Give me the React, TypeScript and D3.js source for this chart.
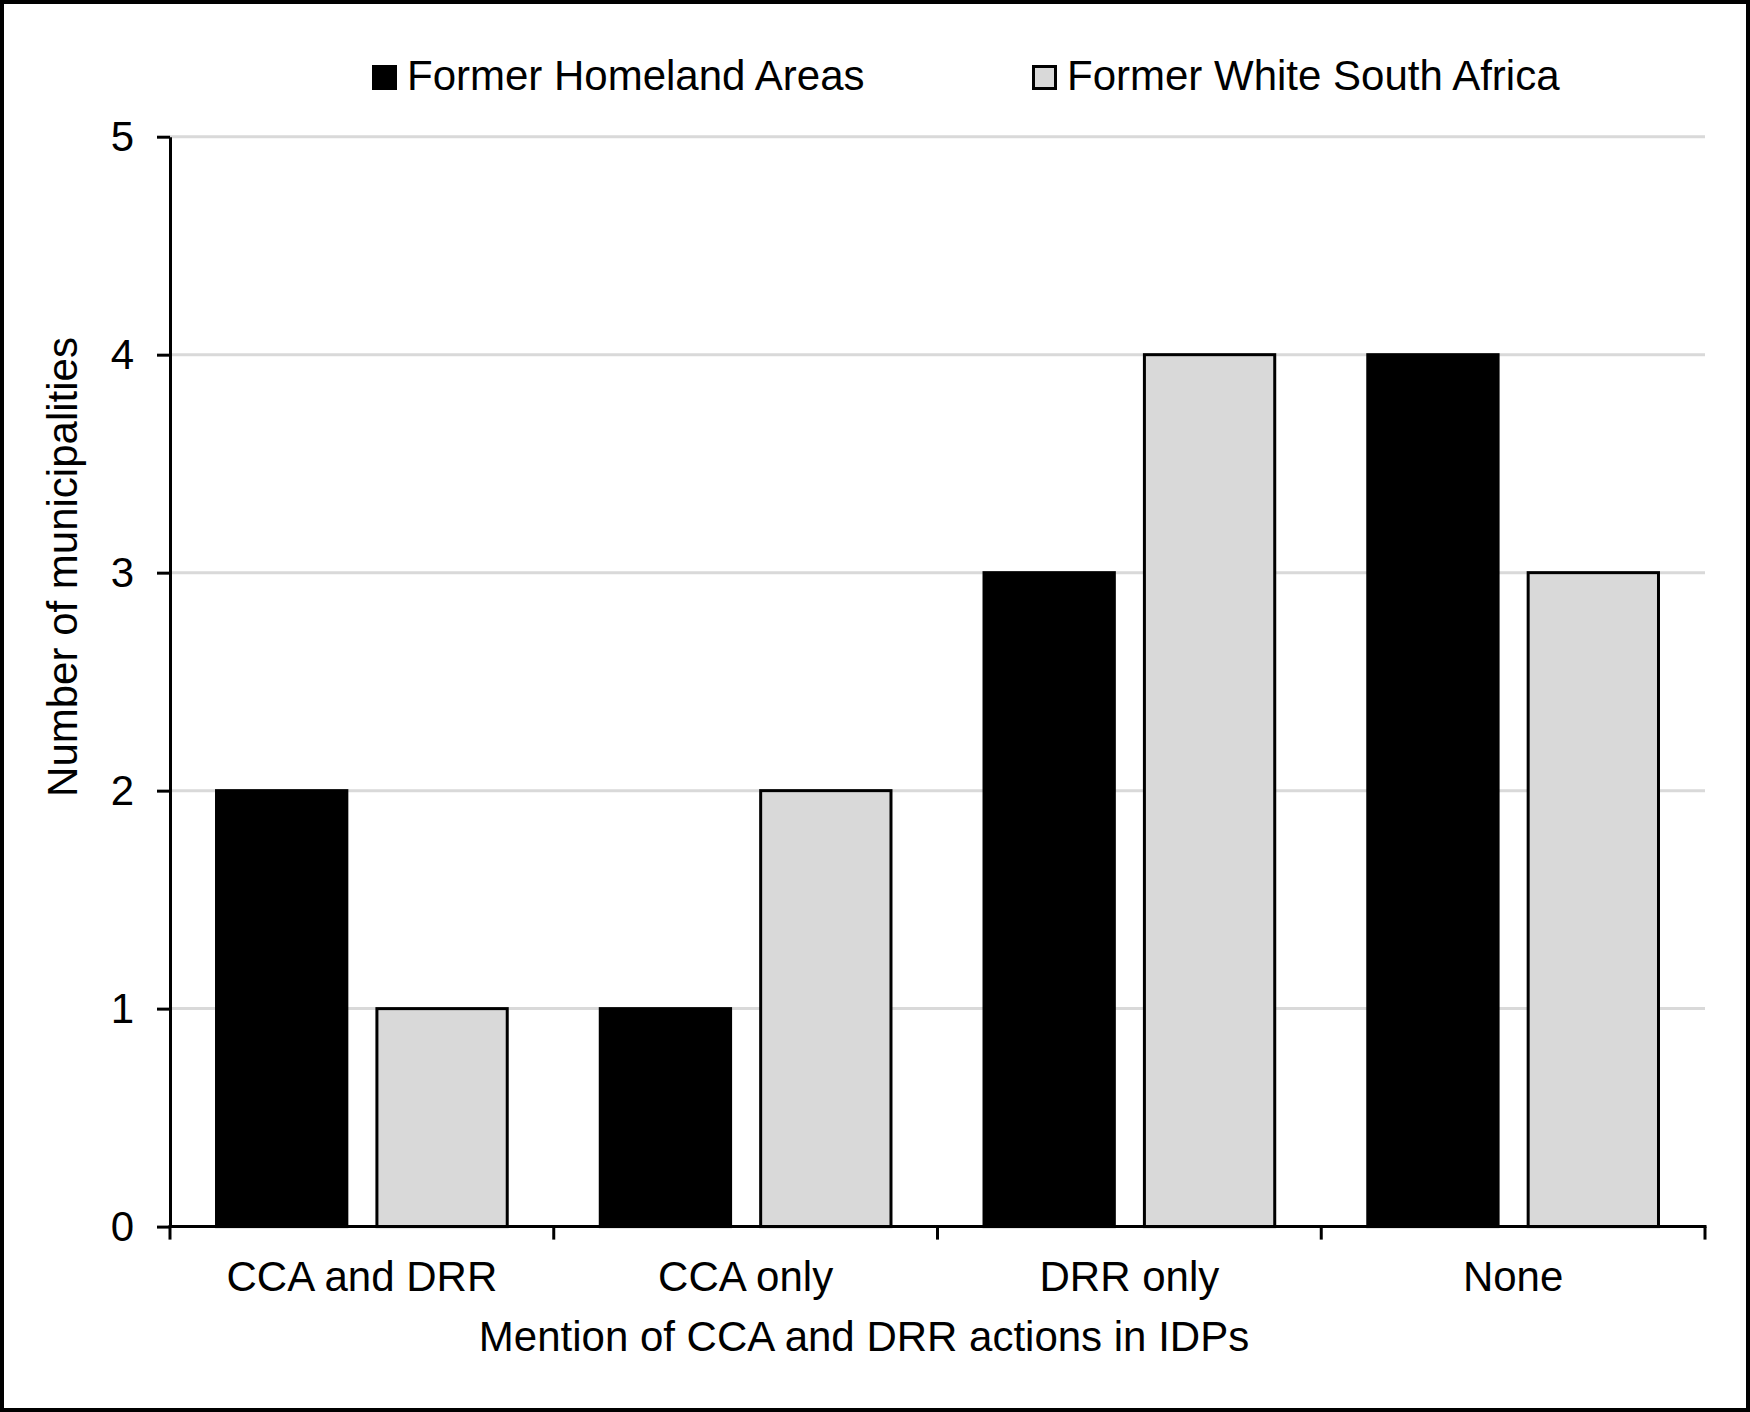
import { useEffect, useRef } from "react";
import * as d3 from "d3";

const categories = ["CCA and DRR", "CCA only", "DRR only", "None"];
const seriesNames = ["Former Homeland Areas", "Former White South Africa"];
const homelandValues = [2, 1, 3, 4];
const whiteSAValues = [1, 2, 4, 3];
const yTicks = [0, 1, 2, 3, 4, 5];

const W = 1750;
const H = 1412;
const FONT = "'Liberation Sans', Arial, sans-serif";

export default function App() {
	const ref = useRef<SVGSVGElement | null>(null);

	useEffect(() => {
		const svg = d3.select(ref.current);
		svg.selectAll("*").remove();

		const plot = { left: 170, right: 1705, top: 136.7, bottom: 1226.6 };

		// white background + outer frame
		svg.append("rect")
			.attr("x", 2).attr("y", 2)
			.attr("width", W - 4).attr("height", H - 4)
			.attr("fill", "#fff")
			.attr("stroke", "#000")
			.attr("stroke-width", 4);

		const x0 = d3.scaleBand<string>()
			.domain(categories)
			.range([plot.left, plot.right]);

		const x1 = d3.scaleBand<string>()
			.domain(seriesNames)
			.range([0, x0.bandwidth()])
			.paddingInner(0.1875)
			.paddingOuter(0.29);

		const y = d3.scaleLinear()
			.domain([0, 5])
			.range([plot.bottom, plot.top]);

		// gridlines
		svg.append("g")
			.selectAll("line")
			.data(yTicks.filter(t => t > 0))
			.enter()
			.append("line")
			.attr("x1", plot.left)
			.attr("x2", plot.right)
			.attr("y1", d => y(d))
			.attr("y2", d => y(d))
			.attr("stroke", "#d9d9d9")
			.attr("stroke-width", 3);

		// bars
		const rows = categories.map((c, i) => ({
			category: c,
			values: [homelandValues[i], whiteSAValues[i]]
		}));

		const fills = ["#000", "#d9d9d9"];

		const groups = svg.append("g")
			.selectAll("g")
			.data(rows)
			.enter()
			.append("g")
			.attr("transform", d => `translate(${x0(d.category)},0)`);

		groups.selectAll("rect")
			.data(d => d.values.map((v, j) => ({ name: seriesNames[j], value: v, j })))
			.enter()
			.append("rect")
			.attr("x", d => x1(d.name)!)
			.attr("y", d => y(d.value))
			.attr("width", x1.bandwidth())
			.attr("height", d => y(0) - y(d.value))
			.attr("fill", d => fills[d.j])
			.attr("stroke", "#000")
			.attr("stroke-width", 3);

		// y axis
		const yAxis = svg.append("g")
			.attr("transform", `translate(${plot.left},0)`)
			.call(
				d3.axisLeft(y)
					.tickValues(yTicks)
					.tickFormat(d3.format("d"))
					.tickSize(13)
					.tickSizeOuter(0)
					.tickPadding(23)
			);

		yAxis.select(".domain").attr("stroke", "#000").attr("stroke-width", 3);
		yAxis.selectAll(".tick line").attr("stroke", "#000").attr("stroke-width", 3);
		yAxis.selectAll(".tick text")
			.attr("font-family", FONT)
			.attr("font-size", 42)
			.attr("fill", "#000");

		// x axis line and boundary ticks
		const xAxis = svg.append("g");
		xAxis.append("line")
			.attr("x1", plot.left - 1.5)
			.attr("x2", plot.right + 1.5)
			.attr("y1", y(0))
			.attr("y2", y(0))
			.attr("stroke", "#000")
			.attr("stroke-width", 3);

		const bounds = categories.map(c => x0(c)!).concat([plot.right]);
		xAxis.selectAll(".xtick")
			.data(bounds)
			.enter()
			.append("line")
			.attr("class", "xtick")
			.attr("x1", d => d)
			.attr("x2", d => d)
			.attr("y1", y(0))
			.attr("y2", y(0) + 13)
			.attr("stroke", "#000")
			.attr("stroke-width", 3);

		xAxis.selectAll(".xlabel")
			.data(categories)
			.enter()
			.append("text")
			.attr("class", "xlabel")
			.attr("x", d => x0(d)! + x0.bandwidth() / 2)
			.attr("y", 1291)
			.attr("text-anchor", "middle")
			.attr("font-family", FONT)
			.attr("font-size", 42)
			.text(d => d);

		// axis titles
		svg.append("text")
			.attr("x", 864)
			.attr("y", 1351)
			.attr("text-anchor", "middle")
			.attr("font-family", FONT)
			.attr("font-size", 42)
			.text("Mention of CCA and DRR actions in IDPs");

		svg.append("text")
			.attr("transform", "rotate(-90)")
			.attr("x", -567)
			.attr("y", 77)
			.attr("text-anchor", "middle")
			.attr("font-family", FONT)
			.attr("font-size", 42)
			.text("Number of municipalities");

		// legend
		const legendX = [372, 1032];
		const legend = svg.append("g")
			.selectAll("g")
			.data(seriesNames)
			.enter()
			.append("g")
			.attr("transform", (_d, i) => `translate(${legendX[i]},65)`);

		legend.append("rect")
			.attr("x", 1.5)
			.attr("y", 1.5)
			.attr("width", 22)
			.attr("height", 22)
			.attr("fill", (_d, i) => fills[i])
			.attr("stroke", "#000")
			.attr("stroke-width", 3);

		legend.append("text")
			.attr("x", 35)
			.attr("y", 25)
			.attr("font-family", FONT)
			.attr("font-size", 42)
			.text(d => d);
	}, []);

	return (
		<svg
			ref={ref}
			width={W}
			height={H}
			style={{ position: "absolute", left: 0, top: 0, background: "#fff" }}
		/>
	);
}
